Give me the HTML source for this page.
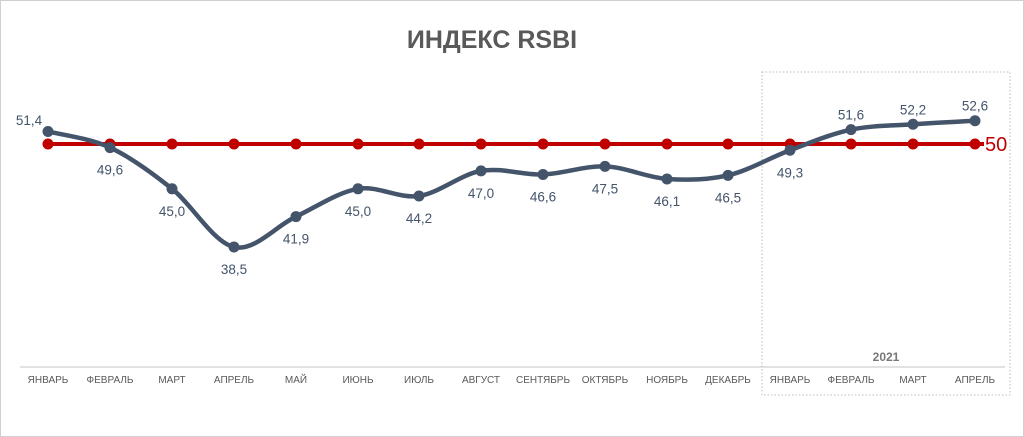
<!DOCTYPE html>
<html><head><meta charset="utf-8"><style>
body{margin:0;background:#fff}
svg{display:block;font-family:"Liberation Sans","DejaVu Sans",sans-serif}
</style></head><body>
<svg id="s" width="1024" height="437" viewBox="0 0 1024 437">
<rect x="0.5" y="0.5" width="1023" height="436" fill="#fff" stroke="#d0d0d0"/>
<text x="492" y="48" text-anchor="middle" font-size="25" font-weight="bold" fill="#595959">ИНДЕКС RSBI</text>
<line x1="20" y1="367" x2="1005" y2="367" stroke="#d9d9d9" stroke-width="1.5"/>
<rect x="762" y="72" width="248" height="323" fill="none" stroke="#bbb" stroke-dasharray="1.5,2"/>
<text x="886" y="361" text-anchor="middle" font-size="12" font-weight="bold" fill="#777">2021</text>
<g id="red"></g>
<g id="blue"></g>
<g id="labels" font-size="13.5" fill="#44546a" text-anchor="middle"></g>
<g id="xl" font-size="10" fill="#595959" text-anchor="middle"></g>
<text x="985" y="151" font-size="20" fill="#c00000">50</text>
</svg>
<script>
var xs=[48,110,172,234,296,358,419,481,543,605,667,728,790,851,913,975];
var v=[51.4,49.6,45.0,38.5,41.9,45.0,44.2,47.0,46.6,47.5,46.1,46.5,49.3,51.6,52.2,52.6];
var m=["ЯНВАРЬ","ФЕВРАЛЬ","МАРТ","АПРЕЛЬ","МАЙ","ИЮНЬ","ИЮЛЬ","АВГУСТ","СЕНТЯБРЬ","ОКТЯБРЬ","НОЯБРЬ","ДЕКАБРЬ","ЯНВАРЬ","ФЕВРАЛЬ","МАРТ","АПРЕЛЬ"];
function Y(a){return 144-(a-50)*8.96}
var ns="http://www.w3.org/2000/svg";
function el(t,a,p){var e=document.createElementNS(ns,t);for(var k in a)e.setAttribute(k,a[k]);document.getElementById(p).appendChild(e);return e}
el("line",{x1:48,y1:144,x2:984,y2:144,stroke:"#c00000","stroke-width":4},"red");
var P=xs.map(function(x,i){return[x,Y(v[i])]});
var d="M"+P[0][0]+","+P[0][1];
for(var i=0;i<P.length-1;i++){var p0=P[i-1]||P[i],p1=P[i],p2=P[i+1],p3=P[i+2]||p2;
d+=" C"+(p1[0]+(p2[0]-p0[0])/6)+","+(p1[1]+(p2[1]-p0[1])/6)+" "+(p2[0]-(p3[0]-p1[0])/6)+","+(p2[1]-(p3[1]-p1[1])/6)+" "+p2[0]+","+p2[1];}
el("path",{d:d,fill:"none",stroke:"#44546a","stroke-width":4.5,"stroke-linecap":"round"},"blue");
xs.forEach(function(x,i){
el("circle",{cx:x,cy:144,r:5.5,fill:"#c00000"},"red");
el("circle",{cx:x,cy:P[i][1],r:5.5,fill:"#44546a"},"blue");
var above=(i==0||i>=13);
var lx=i==0?29:x, ly=above?P[i][1]-10:P[i][1]+27;
if(i==0)ly=125;
var t=el("text",{x:lx,y:ly},"labels");t.textContent=v[i].toFixed(1).replace(".",",");
var t2=el("text",{x:x,y:383},"xl");t2.textContent=m[i];
});
</script>
</body></html>
